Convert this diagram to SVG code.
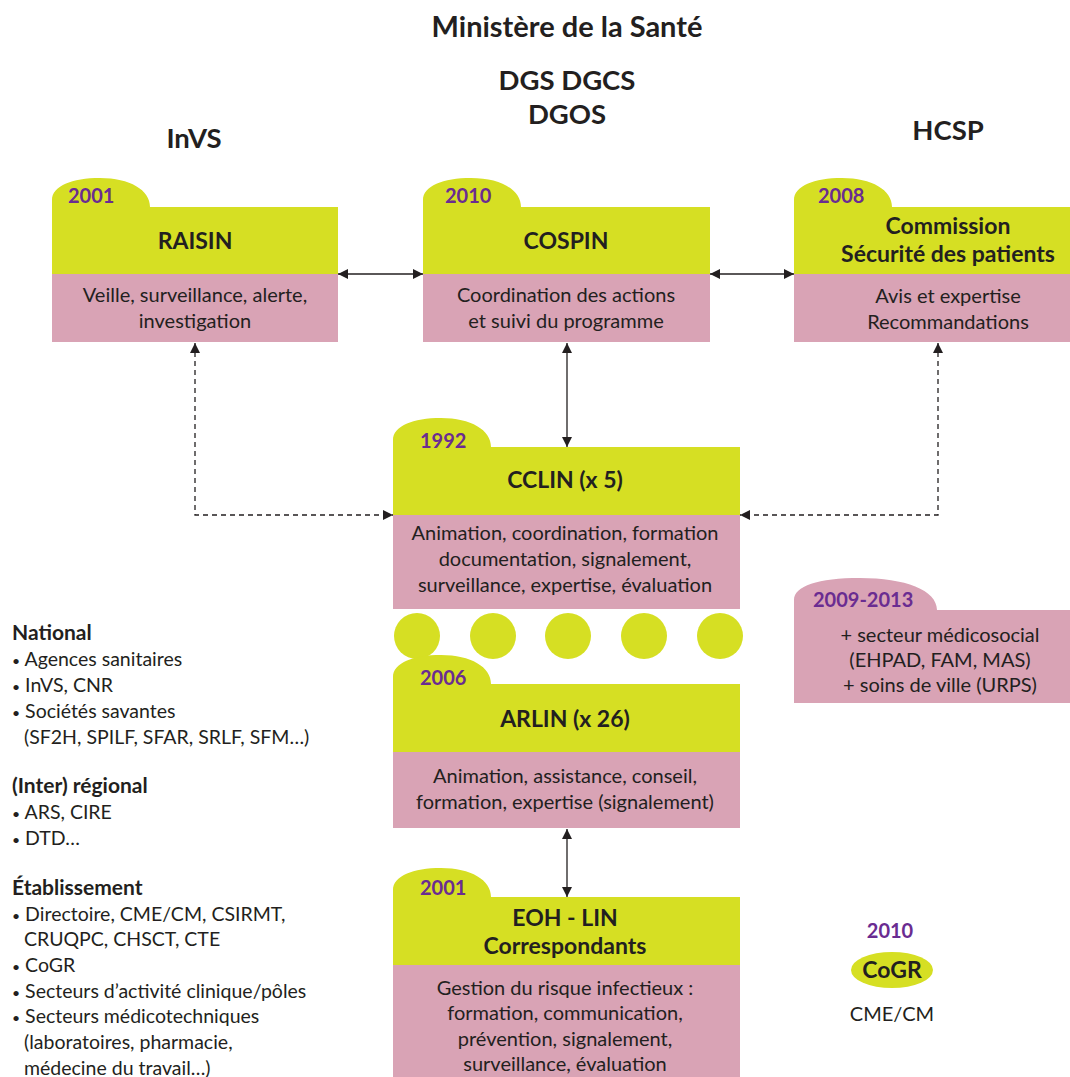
<svg xmlns="http://www.w3.org/2000/svg" width="1070" height="1077" viewBox="0 0 1070 1077">
<defs>
<marker id="ah" viewBox="0 0 10 10" refX="10" refY="5" markerWidth="10" markerHeight="10" markerUnits="userSpaceOnUse" orient="auto-start-reverse">
<path d="M0,0 L10,5 L0,10 Z" fill="#231f20"/>
</marker>
<style>
text{font-family:Lato,"Noto Sans",sans-serif;fill:#231f20}
.h{font-weight:bold;font-size:27.5px;text-anchor:middle}
.t{font-weight:bold;font-size:23px;text-anchor:middle}
.y{font-weight:bold;font-size:20px;fill:#6a2c91}
.b{font-size:20px;text-anchor:middle}
.l{font-size:19.5px}
.lb{font-size:21px;font-weight:bold}
.bu{font-size:14px}
.g{fill:#d6df23}
.p{fill:#d9a3b5}
.c{stroke:#231f20;stroke-width:1.3;fill:none}
.d{stroke-dasharray:5 4}
</style>
</defs>
<rect width="1070" height="1077" fill="#fff"/>
<g id="titles">
<text class="h" x="567" y="37" style="font-size:29px">Ministère de la Santé</text>
<text class="h" x="567" y="90">DGS DGCS</text>
<text class="h" x="567" y="124">DGOS</text>
<text class="h" x="194" y="148">InVS</text>
<text class="h" x="948" y="140">HCSP</text>
</g>
<g id="connectors">
<line class="c" x1="338" y1="274" x2="423" y2="274" marker-start="url(#ah)" marker-end="url(#ah)"/>
<line class="c" x1="710" y1="274" x2="794" y2="274" marker-start="url(#ah)" marker-end="url(#ah)"/>
<line class="c" x1="567" y1="343" x2="567" y2="447" marker-start="url(#ah)" marker-end="url(#ah)"/>
<polyline class="c d" points="195,343 195,515 393,515" marker-start="url(#ah)" marker-end="url(#ah)"/>
<polyline class="c d" points="938,343 938,515 740,515" marker-start="url(#ah)" marker-end="url(#ah)"/>
<line class="c" x1="567" y1="829" x2="567" y2="897" marker-start="url(#ah)" marker-end="url(#ah)"/>
</g>
<g id="raisin">
<path class="g" d="M52,274 V200 C52,186 72,178 100,178 C130,178 150,190 150,207 H338 V274 Z"/>
<rect class="p" x="52" y="274" width="286" height="68"/>
<text class="y" x="68" y="203">2001</text>
<text class="t" x="195" y="249">RAISIN</text>
<text class="b" x="195" y="302">Veille, surveillance, alerte,</text>
<text class="b" x="195" y="328">investigation</text>
</g>
<g id="cospin">
<path class="g" d="M423,274 V200 C423,186 443,178 471,178 C501,178 521,190 521,207 H710 V274 Z"/>
<rect class="p" x="423" y="274" width="287" height="68"/>
<text class="y" x="445" y="203">2010</text>
<text class="t" x="566" y="249">COSPIN</text>
<text class="b" x="566" y="302">Coordination des actions</text>
<text class="b" x="566" y="328">et suivi du programme</text>
</g>
<g id="commission">
<path class="g" d="M794,274 V200 C794,186 814,178 842,178 C872,178 892,190 892,207 H1070 V274 Z"/>
<rect class="p" x="794" y="274" width="276" height="68"/>
<text class="y" x="818" y="203">2008</text>
<text class="t" x="948" y="234">Commission</text>
<text class="t" x="948" y="262">Sécurité des patients</text>
<text class="b" x="948" y="303">Avis et expertise</text>
<text class="b" x="948" y="329">Recommandations</text>
</g>
<g id="cclin">
<path class="g" d="M393,515 V440 C393,426 413,418 441,418 C471,418 491,430 491,447 H740 V515 Z"/>
<rect class="p" x="393" y="515" width="347" height="94"/>
<text class="y" x="420" y="448">1992</text>
<text class="t" x="565" y="488">CCLIN (x 5)</text>
<text class="b" x="565" y="540">Animation, coordination, formation</text>
<text class="b" x="565" y="566">documentation, signalement,</text>
<text class="b" x="565" y="592">surveillance, expertise, évaluation</text>
</g>
<g id="dots">
<circle class="g" cx="417" cy="636" r="23"/>
<circle class="g" cx="493" cy="636" r="23"/>
<circle class="g" cx="568" cy="636" r="23"/>
<circle class="g" cx="644" cy="636" r="23"/>
<circle class="g" cx="720" cy="636" r="23"/>
</g>
<g id="arlin">
<path class="g" d="M393,752 V677 C393,663 413,655 441,655 C471,655 491,667 491,684 H740 V752 Z"/>
<rect class="p" x="393" y="752" width="347" height="76"/>
<text class="y" x="420" y="685">2006</text>
<text class="t" x="565" y="727">ARLIN (x 26)</text>
<text class="b" x="565" y="783">Animation, assistance, conseil,</text>
<text class="b" x="565" y="809">formation, expertise (signalement)</text>
</g>
<g id="eoh">
<path class="g" d="M393,965 V890 C393,876 413,868 441,868 C471,868 491,880 491,897 H740 V965 Z"/>
<rect class="p" x="393" y="965" width="347" height="112"/>
<text class="y" x="420" y="895">2001</text>
<text class="t" x="565" y="926">EOH - LIN</text>
<text class="t" x="565" y="954">Correspondants</text>
<text class="b" x="565" y="995">Gestion du risque infectieux :</text>
<text class="b" x="565" y="1020">formation, communication,</text>
<text class="b" x="565" y="1046">prévention, signalement,</text>
<text class="b" x="565" y="1071">surveillance, évaluation</text>
</g>
<g id="medicosocial">
<path class="p" d="M794,703 V600 C794,586 818,578 860,578 C905,578 937,590 937,610 H1070 V703 Z"/>
<text class="y" x="813" y="607">2009-2013</text>
<text class="b" x="940" y="642">+ secteur médicosocial</text>
<text class="b" x="940" y="667">(EHPAD, FAM, MAS)</text>
<text class="b" x="940" y="692">+ soins de ville (URPS)</text>
</g>
<g id="cogr">
<text class="y" x="890" y="938" text-anchor="middle">2010</text>
<ellipse class="g" cx="892" cy="970" rx="41" ry="18"/>
<text class="t" x="892" y="978">CoGR</text>
<text class="b" x="892" y="1021">CME/CM</text>
</g>
<g id="legend">
<text class="lb" x="12" y="640">National</text>
<text class="l" x="12" y="666"><tspan class="bu">•</tspan> Agences sanitaires</text>
<text class="l" x="12" y="692"><tspan class="bu">•</tspan> InVS, CNR</text>
<text class="l" x="12" y="718"><tspan class="bu">•</tspan> Sociétés savantes</text>
<text class="l" x="24" y="744">(SF2H, SPILF, SFAR, SRLF, SFM…)</text>
<text class="lb" x="12" y="793">(Inter) régional</text>
<text class="l" x="12" y="819"><tspan class="bu">•</tspan> ARS, CIRE</text>
<text class="l" x="12" y="845"><tspan class="bu">•</tspan> DTD…</text>
<text class="lb" x="12" y="895">Établissement</text>
<text class="l" x="12" y="921"><tspan class="bu">•</tspan> Directoire, CME/CM, CSIRMT,</text>
<text class="l" x="24" y="946">CRUQPC, CHSCT, CTE</text>
<text class="l" x="12" y="972"><tspan class="bu">•</tspan> CoGR</text>
<text class="l" x="12" y="998"><tspan class="bu">•</tspan> Secteurs d’activité clinique/pôles</text>
<text class="l" x="12" y="1023"><tspan class="bu">•</tspan> Secteurs médicotechniques</text>
<text class="l" x="24" y="1049">(laboratoires, pharmacie,</text>
<text class="l" x="24" y="1075">médecine du travail…)</text>
</g>
</svg>
